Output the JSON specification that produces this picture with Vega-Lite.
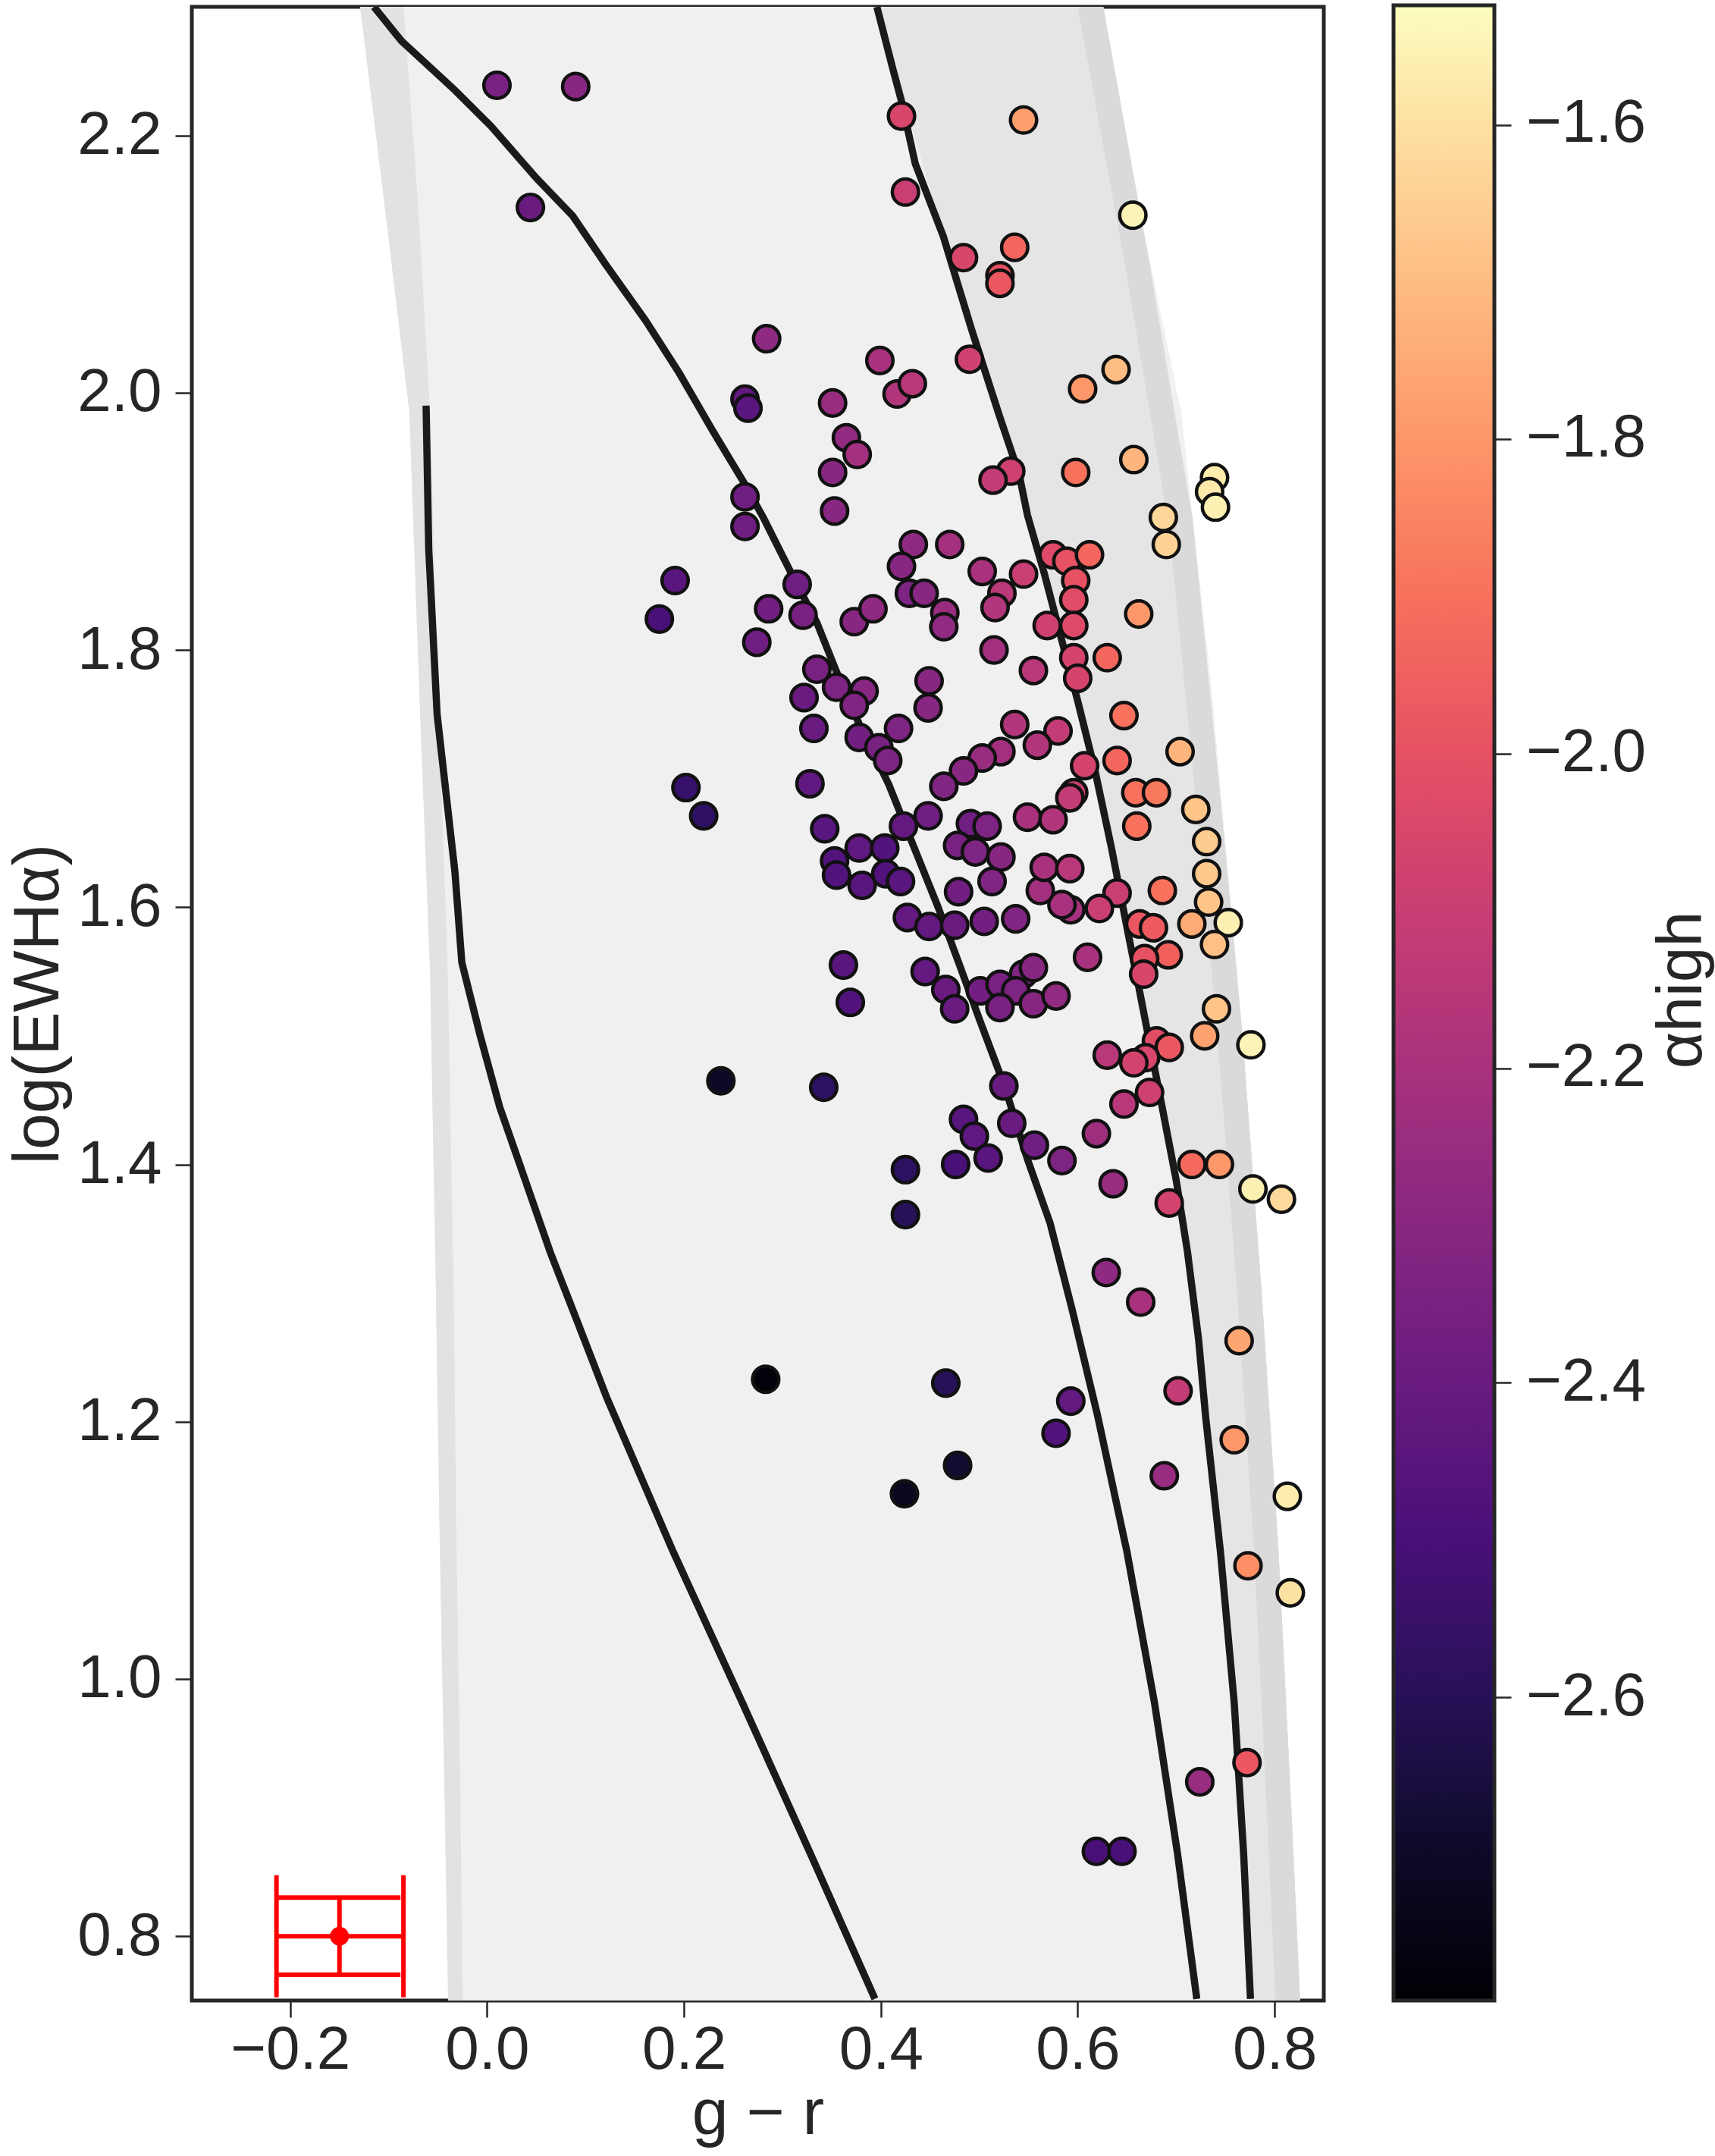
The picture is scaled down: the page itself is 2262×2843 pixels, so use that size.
{
"$schema": "https://vega.github.io/schema/vega-lite/v6.json",
"width": 1493, "height": 2629,
"autosize": {"type": "none"},
"padding": {"left": 253, "top": 9, "right": 516, "bottom": 205},
"background": "white",
"config": {
 "font": "Liberation Sans",
 "view": {"stroke": "#262626", "strokeWidth": 5},
 "axis": {"grid": false, "domain": false, "ticks": true, "tickSize": 22, "tickWidth": 2.5, "tickColor": "#262626", "labelFontSize": 80, "labelColor": "#262626", "titleFontSize": 86, "titleFontWeight": "normal", "titleColor": "#262626", "labelFont": "Liberation Sans", "titleFont": "Liberation Sans", "titleLimit": 2000},
 "axisX": {"tickCount": 6, "labelPadding": 4, "titlePadding": 2},
 "axisY": {"tickCount": 8, "labelPadding": 18, "titlePadding": 7},
 "legend": {"gradientVerticalMaxLength": 3000, "gradientVerticalMinLength": 10}
},
"datasets": {
 "band": [
  {"y": 2.30, "xl": -0.129, "xr": 0.626}, {"y": 2.145, "xl": -0.104, "xr": 0.662}, {"y": 1.985, "xl": -0.079, "xr": 0.705},
  {"y": 1.77, "xl": -0.069, "xr": 0.736}, {"y": 1.55, "xl": -0.058, "xr": 0.762}, {"y": 1.30, "xl": -0.052, "xr": 0.787},
  {"y": 1.10, "xl": -0.048, "xr": 0.804}, {"y": 0.90, "xl": -0.043, "xr": 0.817}, {"y": 0.75, "xl": -0.0396, "xr": 0.826}
 ],
 "dark": [
  {"y": 2.30, "xl": 0.396, "xr": 0.626}, {"y": 2.10, "xl": 0.472, "xr": 0.673}, {"y": 1.90, "xl": 0.551, "xr": 0.717},
  {"y": 1.70, "xl": 0.619, "xr": 0.743}, {"y": 1.50, "xl": 0.672, "xr": 0.7675}, {"y": 1.30, "xl": 0.717, "xr": 0.787},
  {"y": 1.10, "xl": 0.745, "xr": 0.804}, {"y": 0.90, "xl": 0.766, "xr": 0.817}, {"y": 0.75, "xl": 0.7755, "xr": 0.826}
 ],
 "rstrip": [
  {"y": 2.30, "xl": 0.60, "xr": 0.626}, {"y": 2.10, "xl": 0.648, "xr": 0.673}, {"y": 1.90, "xl": 0.692, "xr": 0.717},
  {"y": 1.70, "xl": 0.718, "xr": 0.743}, {"y": 1.50, "xl": 0.742, "xr": 0.7675}, {"y": 1.30, "xl": 0.762, "xr": 0.787},
  {"y": 1.10, "xl": 0.779, "xr": 0.804}, {"y": 0.90, "xl": 0.792, "xr": 0.817}, {"y": 0.75, "xl": 0.801, "xr": 0.826}
 ],
 "lstrip": [
  {"y": 2.30, "xl": -0.129, "xr": -0.085}, {"y": 2.145, "xl": -0.104, "xr": -0.07}, {"y": 1.985, "xl": -0.079, "xr": -0.058},
  {"y": 1.77, "xl": -0.069, "xr": -0.05}, {"y": 1.55, "xl": -0.058, "xr": -0.04}, {"y": 1.30, "xl": -0.052, "xr": -0.034},
  {"y": 1.10, "xl": -0.048, "xr": -0.031}, {"y": 0.90, "xl": -0.043, "xr": -0.027}, {"y": 0.75, "xl": -0.0396, "xr": -0.025}
 ],
 "tracks": [
  {"line": "A", "i": 0, "x": -0.115, "y": 2.30}, {"line": "A", "i": 1, "x": -0.087, "y": 2.2735}, {"line": "A", "i": 2, "x": -0.033, "y": 2.2354},
  {"line": "A", "i": 3, "x": 0.004, "y": 2.2072}, {"line": "A", "i": 4, "x": 0.050, "y": 2.1669}, {"line": "A", "i": 5, "x": 0.087, "y": 2.1374},
  {"line": "A", "i": 6, "x": 0.121, "y": 2.0991}, {"line": "A", "i": 7, "x": 0.161, "y": 2.0561}, {"line": "A", "i": 8, "x": 0.195, "y": 2.0155},
  {"line": "A", "i": 9, "x": 0.229, "y": 1.9707}, {"line": "A", "i": 10, "x": 0.261, "y": 1.930}, {"line": "A", "i": 11, "x": 0.281, "y": 1.9024},
  {"line": "A", "i": 12, "x": 0.309, "y": 1.8596}, {"line": "A", "i": 13, "x": 0.335, "y": 1.8213}, {"line": "A", "i": 14, "x": 0.355, "y": 1.783},
  {"line": "A", "i": 15, "x": 0.378, "y": 1.7424}, {"line": "A", "i": 16, "x": 0.408, "y": 1.6956}, {"line": "A", "i": 17, "x": 0.432, "y": 1.6499},
  {"line": "A", "i": 18, "x": 0.458, "y": 1.6004}, {"line": "A", "i": 19, "x": 0.479, "y": 1.5571}, {"line": "A", "i": 20, "x": 0.5005, "y": 1.5121},
  {"line": "A", "i": 21, "x": 0.526, "y": 1.4602}, {"line": "A", "i": 22, "x": 0.549, "y": 1.404}, {"line": "A", "i": 23, "x": 0.572, "y": 1.3543},
  {"line": "A", "i": 24, "x": 0.5945, "y": 1.2867}, {"line": "A", "i": 25, "x": 0.620, "y": 1.2054}, {"line": "A", "i": 26, "x": 0.650, "y": 1.099},
  {"line": "A", "i": 27, "x": 0.678, "y": 0.9816}, {"line": "A", "i": 28, "x": 0.7015, "y": 0.8638}, {"line": "A", "i": 29, "x": 0.721, "y": 0.7513},
  {"line": "C", "i": 0, "x": 0.396, "y": 2.30}, {"line": "C", "i": 1, "x": 0.412, "y": 2.2523}, {"line": "C", "i": 2, "x": 0.4207, "y": 2.2275},
  {"line": "C", "i": 3, "x": 0.435, "y": 2.178}, {"line": "C", "i": 4, "x": 0.4635, "y": 2.1215}, {"line": "C", "i": 5, "x": 0.492, "y": 2.0496},
  {"line": "C", "i": 6, "x": 0.5205, "y": 1.9819}, {"line": "C", "i": 7, "x": 0.5405, "y": 1.9365}, {"line": "C", "i": 8, "x": 0.549, "y": 1.9047},
  {"line": "C", "i": 9, "x": 0.566, "y": 1.8596}, {"line": "C", "i": 10, "x": 0.583, "y": 1.8099}, {"line": "C", "i": 11, "x": 0.600, "y": 1.7604},
  {"line": "C", "i": 12, "x": 0.6176, "y": 1.7062}, {"line": "C", "i": 13, "x": 0.6345, "y": 1.6455}, {"line": "C", "i": 14, "x": 0.6488, "y": 1.589},
  {"line": "C", "i": 15, "x": 0.660, "y": 1.546}, {"line": "C", "i": 16, "x": 0.6715, "y": 1.5008}, {"line": "C", "i": 17, "x": 0.6858, "y": 1.4446},
  {"line": "C", "i": 18, "x": 0.700, "y": 1.388}, {"line": "C", "i": 19, "x": 0.7116, "y": 1.3317}, {"line": "C", "i": 20, "x": 0.7228, "y": 1.2641},
  {"line": "C", "i": 21, "x": 0.730, "y": 1.2037}, {"line": "C", "i": 22, "x": 0.745, "y": 1.099}, {"line": "C", "i": 23, "x": 0.759, "y": 0.9816},
  {"line": "C", "i": 24, "x": 0.7686, "y": 0.8638}, {"line": "C", "i": 25, "x": 0.7755, "y": 0.7513},
  {"line": "B", "i": 0, "x": -0.062, "y": 1.990}, {"line": "B", "i": 1, "x": -0.0593, "y": 1.878}, {"line": "B", "i": 2, "x": -0.0508, "y": 1.750},
  {"line": "B", "i": 3, "x": -0.0327, "y": 1.6274}, {"line": "B", "i": 4, "x": -0.0257, "y": 1.5571}, {"line": "B", "i": 5, "x": -0.0072, "y": 1.5006},
  {"line": "B", "i": 6, "x": 0.0128, "y": 1.4446}, {"line": "B", "i": 7, "x": 0.0386, "y": 1.3881}, {"line": "B", "i": 8, "x": 0.0642, "y": 1.3317},
  {"line": "B", "i": 9, "x": 0.0928, "y": 1.2756}, {"line": "B", "i": 10, "x": 0.1214, "y": 1.219}, {"line": "B", "i": 11, "x": 0.130, "y": 1.2037},
  {"line": "B", "i": 12, "x": 0.189, "y": 1.099}, {"line": "B", "i": 13, "x": 0.2593, "y": 0.9816}, {"line": "B", "i": 14, "x": 0.3287, "y": 0.8638},
  {"line": "B", "i": 15, "x": 0.394, "y": 0.7513}
 ],
 "pts": [
  {"x": 0.010, "y": 2.239, "a": -2.35}, {"x": 0.090, "y": 2.238, "a": -2.3}, {"x": 0.044, "y": 2.144, "a": -2.4},
  {"x": 0.284, "y": 2.042, "a": -2.28}, {"x": 0.262, "y": 1.995, "a": -2.42}, {"x": 0.265, "y": 1.988, "a": -2.45},
  {"x": 0.399, "y": 2.025, "a": -2.2}, {"x": 0.4165, "y": 1.999, "a": -2.17}, {"x": 0.432, "y": 2.007, "a": -2.15},
  {"x": 0.351, "y": 1.992, "a": -2.25}, {"x": 0.365, "y": 1.965, "a": -2.27}, {"x": 0.376, "y": 1.952, "a": -2.22},
  {"x": 0.351, "y": 1.938, "a": -2.3}, {"x": 0.353, "y": 1.908, "a": -2.3}, {"x": 0.262, "y": 1.919, "a": -2.38},
  {"x": 0.262, "y": 1.896, "a": -2.38},
  {"x": 0.421, "y": 2.215, "a": -2.05}, {"x": 0.545, "y": 2.212, "a": -1.78}, {"x": 0.425, "y": 2.156, "a": -2.1},
  {"x": 0.656, "y": 2.138, "a": -1.55}, {"x": 0.484, "y": 2.105, "a": -2.05}, {"x": 0.536, "y": 2.113, "a": -1.93},
  {"x": 0.521, "y": 2.091, "a": -2.0}, {"x": 0.521, "y": 2.085, "a": -1.98}, {"x": 0.490, "y": 2.026, "a": -2.08},
  {"x": 0.639, "y": 2.018, "a": -1.7}, {"x": 0.605, "y": 2.003, "a": -1.8}, {"x": 0.532, "y": 1.939, "a": -2.08},
  {"x": 0.514, "y": 1.932, "a": -2.12}, {"x": 0.598, "y": 1.938, "a": -1.9}, {"x": 0.657, "y": 1.948, "a": -1.72},
  {"x": 0.739, "y": 1.934, "a": -1.57}, {"x": 0.734, "y": 1.923, "a": -1.58}, {"x": 0.740, "y": 1.911, "a": -1.56},
  {"x": 0.687, "y": 1.903, "a": -1.63},
  {"x": 0.191, "y": 1.854, "a": -2.45}, {"x": 0.175, "y": 1.824, "a": -2.5}, {"x": 0.315, "y": 1.851, "a": -2.38},
  {"x": 0.286, "y": 1.832, "a": -2.37}, {"x": 0.321, "y": 1.827, "a": -2.35}, {"x": 0.274, "y": 1.806, "a": -2.38},
  {"x": 0.373, "y": 1.822, "a": -2.3}, {"x": 0.392, "y": 1.832, "a": -2.28}, {"x": 0.335, "y": 1.785, "a": -2.35},
  {"x": 0.355, "y": 1.771, "a": -2.33}, {"x": 0.383, "y": 1.768, "a": -2.3}, {"x": 0.373, "y": 1.757, "a": -2.32},
  {"x": 0.322, "y": 1.763, "a": -2.4}, {"x": 0.332, "y": 1.739, "a": -2.4}, {"x": 0.378, "y": 1.732, "a": -2.37},
  {"x": 0.398, "y": 1.724, "a": -2.35}, {"x": 0.407, "y": 1.714, "a": -2.33}, {"x": 0.202, "y": 1.693, "a": -2.55},
  {"x": 0.220, "y": 1.671, "a": -2.57}, {"x": 0.328, "y": 1.696, "a": -2.43}, {"x": 0.343, "y": 1.661, "a": -2.45},
  {"x": 0.353, "y": 1.636, "a": -2.47}, {"x": 0.355, "y": 1.625, "a": -2.47}, {"x": 0.378, "y": 1.646, "a": -2.43},
  {"x": 0.381, "y": 1.617, "a": -2.45}, {"x": 0.362, "y": 1.555, "a": -2.45}, {"x": 0.369, "y": 1.526, "a": -2.47},
  {"x": 0.2375, "y": 1.465, "a": -2.7}, {"x": 0.342, "y": 1.460, "a": -2.58}, {"x": 0.283, "y": 1.233, "a": -2.78},
  {"x": 0.433, "y": 1.882, "a": -2.28}, {"x": 0.470, "y": 1.882, "a": -2.22}, {"x": 0.421, "y": 1.865, "a": -2.3},
  {"x": 0.429, "y": 1.844, "a": -2.33}, {"x": 0.444, "y": 1.844, "a": -2.3}, {"x": 0.465, "y": 1.829, "a": -2.25},
  {"x": 0.464, "y": 1.818, "a": -2.27}, {"x": 0.503, "y": 1.861, "a": -2.2}, {"x": 0.523, "y": 1.844, "a": -2.15},
  {"x": 0.516, "y": 1.833, "a": -2.17}, {"x": 0.545, "y": 1.859, "a": -2.1}, {"x": 0.575, "y": 1.874, "a": -2.03},
  {"x": 0.589, "y": 1.869, "a": -2.0}, {"x": 0.612, "y": 1.874, "a": -1.93}, {"x": 0.598, "y": 1.854, "a": -2.0},
  {"x": 0.596, "y": 1.839, "a": -2.02}, {"x": 0.569, "y": 1.819, "a": -2.08}, {"x": 0.596, "y": 1.819, "a": -2.03},
  {"x": 0.515, "y": 1.800, "a": -2.22}, {"x": 0.555, "y": 1.784, "a": -2.15}, {"x": 0.596, "y": 1.794, "a": -2.06},
  {"x": 0.600, "y": 1.778, "a": -2.06}, {"x": 0.630, "y": 1.794, "a": -1.93}, {"x": 0.662, "y": 1.828, "a": -1.8},
  {"x": 0.690, "y": 1.882, "a": -1.64}, {"x": 0.449, "y": 1.776, "a": -2.3}, {"x": 0.448, "y": 1.755, "a": -2.3},
  {"x": 0.418, "y": 1.739, "a": -2.33}, {"x": 0.536, "y": 1.742, "a": -2.17}, {"x": 0.580, "y": 1.737, "a": -2.12},
  {"x": 0.559, "y": 1.726, "a": -2.17}, {"x": 0.522, "y": 1.721, "a": -2.22}, {"x": 0.503, "y": 1.716, "a": -2.25},
  {"x": 0.484, "y": 1.706, "a": -2.3}, {"x": 0.464, "y": 1.694, "a": -2.32}, {"x": 0.607, "y": 1.710, "a": -2.06},
  {"x": 0.640, "y": 1.714, "a": -1.93}, {"x": 0.647, "y": 1.749, "a": -1.9}, {"x": 0.704, "y": 1.721, "a": -1.72},
  {"x": 0.596, "y": 1.689, "a": -2.1}, {"x": 0.592, "y": 1.685, "a": -2.12}, {"x": 0.549, "y": 1.670, "a": -2.2},
  {"x": 0.575, "y": 1.668, "a": -2.17}, {"x": 0.659, "y": 1.689, "a": -1.9}, {"x": 0.680, "y": 1.689, "a": -1.88},
  {"x": 0.660, "y": 1.663, "a": -1.9}, {"x": 0.720, "y": 1.676, "a": -1.68}, {"x": 0.731, "y": 1.651, "a": -1.66},
  {"x": 0.731, "y": 1.626, "a": -1.67}, {"x": 0.733, "y": 1.604, "a": -1.68}, {"x": 0.753, "y": 1.588, "a": -1.56},
  {"x": 0.716, "y": 1.587, "a": -1.75}, {"x": 0.739, "y": 1.571, "a": -1.69}, {"x": 0.686, "y": 1.613, "a": -1.9},
  {"x": 0.640, "y": 1.611, "a": -2.1}, {"x": 0.622, "y": 1.599, "a": -2.1}, {"x": 0.593, "y": 1.598, "a": -2.2},
  {"x": 0.584, "y": 1.602, "a": -2.2}, {"x": 0.562, "y": 1.613, "a": -2.22}, {"x": 0.566, "y": 1.631, "a": -2.2},
  {"x": 0.592, "y": 1.630, "a": -2.15}, {"x": 0.663, "y": 1.587, "a": -1.98}, {"x": 0.677, "y": 1.584, "a": -1.97},
  {"x": 0.692, "y": 1.563, "a": -1.95}, {"x": 0.668, "y": 1.560, "a": -2.0}, {"x": 0.610, "y": 1.561, "a": -2.2},
  {"x": 0.448, "y": 1.671, "a": -2.38}, {"x": 0.423, "y": 1.663, "a": -2.42}, {"x": 0.491, "y": 1.665, "a": -2.38},
  {"x": 0.508, "y": 1.663, "a": -2.33}, {"x": 0.478, "y": 1.648, "a": -2.35}, {"x": 0.496, "y": 1.643, "a": -2.33},
  {"x": 0.522, "y": 1.639, "a": -2.3}, {"x": 0.513, "y": 1.620, "a": -2.32}, {"x": 0.479, "y": 1.612, "a": -2.37},
  {"x": 0.404, "y": 1.646, "a": -2.47}, {"x": 0.405, "y": 1.626, "a": -2.47}, {"x": 0.420, "y": 1.620, "a": -2.45},
  {"x": 0.427, "y": 1.592, "a": -2.42}, {"x": 0.449, "y": 1.585, "a": -2.42}, {"x": 0.475, "y": 1.586, "a": -2.4},
  {"x": 0.505, "y": 1.589, "a": -2.37}, {"x": 0.537, "y": 1.591, "a": -2.32},
  {"x": 0.445, "y": 1.550, "a": -2.42}, {"x": 0.466, "y": 1.536, "a": -2.4}, {"x": 0.475, "y": 1.521, "a": -2.4},
  {"x": 0.501, "y": 1.535, "a": -2.37}, {"x": 0.521, "y": 1.540, "a": -2.35}, {"x": 0.545, "y": 1.548, "a": -2.32},
  {"x": 0.555, "y": 1.553, "a": -2.3}, {"x": 0.537, "y": 1.535, "a": -2.33}, {"x": 0.521, "y": 1.522, "a": -2.35},
  {"x": 0.555, "y": 1.525, "a": -2.3}, {"x": 0.578, "y": 1.531, "a": -2.27}, {"x": 0.667, "y": 1.548, "a": -2.05},
  {"x": 0.741, "y": 1.521, "a": -1.68}, {"x": 0.729, "y": 1.500, "a": -1.77}, {"x": 0.776, "y": 1.493, "a": -1.55},
  {"x": 0.630, "y": 1.485, "a": -2.15}, {"x": 0.680, "y": 1.496, "a": -2.02}, {"x": 0.693, "y": 1.491, "a": -1.98},
  {"x": 0.669, "y": 1.483, "a": -2.05}, {"x": 0.657, "y": 1.479, "a": -2.07}, {"x": 0.673, "y": 1.456, "a": -2.08},
  {"x": 0.647, "y": 1.447, "a": -2.15}, {"x": 0.619, "y": 1.424, "a": -2.23}, {"x": 0.525, "y": 1.461, "a": -2.4},
  {"x": 0.533, "y": 1.432, "a": -2.4}, {"x": 0.484, "y": 1.435, "a": -2.45}, {"x": 0.495, "y": 1.422, "a": -2.43},
  {"x": 0.476, "y": 1.400, "a": -2.5}, {"x": 0.509, "y": 1.405, "a": -2.45}, {"x": 0.556, "y": 1.415, "a": -2.38},
  {"x": 0.584, "y": 1.403, "a": -2.33}, {"x": 0.425, "y": 1.396, "a": -2.58}, {"x": 0.425, "y": 1.361, "a": -2.6},
  {"x": 0.636, "y": 1.385, "a": -2.25}, {"x": 0.716, "y": 1.400, "a": -1.92}, {"x": 0.744, "y": 1.400, "a": -1.8},
  {"x": 0.778, "y": 1.381, "a": -1.56}, {"x": 0.807, "y": 1.373, "a": -1.62}, {"x": 0.693, "y": 1.370, "a": -2.07},
  {"x": 0.629, "y": 1.316, "a": -2.28}, {"x": 0.664, "y": 1.293, "a": -2.2}, {"x": 0.764, "y": 1.263, "a": -1.76},
  {"x": 0.466, "y": 1.230, "a": -2.6}, {"x": 0.593, "y": 1.216, "a": -2.42}, {"x": 0.702, "y": 1.224, "a": -2.12},
  {"x": 0.578, "y": 1.191, "a": -2.47}, {"x": 0.478, "y": 1.166, "a": -2.68}, {"x": 0.424, "y": 1.144, "a": -2.72},
  {"x": 0.688, "y": 1.158, "a": -2.25}, {"x": 0.759, "y": 1.186, "a": -1.8}, {"x": 0.813, "y": 1.142, "a": -1.57},
  {"x": 0.773, "y": 1.088, "a": -1.82}, {"x": 0.816, "y": 1.067, "a": -1.6}, {"x": 0.772, "y": 0.935, "a": -1.98},
  {"x": 0.724, "y": 0.920, "a": -2.25}, {"x": 0.619, "y": 0.866, "a": -2.5}, {"x": 0.645, "y": 0.866, "a": -2.5}
 ],
 "err": [{"x": -0.15, "y": 0.80, "xlo": -0.214, "xhi": -0.085, "ylo": 0.77, "yhi": 0.83}]
},
"resolve": {"scale": {"y": "independent"}, "axis": {"y": "independent"}},
"layer": [
 {"layer": [
 {"data": {"name": "band"}, "mark": {"type": "area", "orient": "horizontal", "color": "#f0f0f0", "clip": true},
  "encoding": {"y": {"field": "y", "type": "quantitative", "scale": {"domain": [0.75, 2.30], "nice": false, "zero": false}, "title": "log(EWHα)"},
   "x": {"field": "xl", "type": "quantitative", "scale": {"domain": [-0.3, 0.85], "nice": false, "zero": false}, "title": "g − r", "axis": {"labelExpr": "replace(format(datum.value,'.1f'),'-','−')"}},
   "x2": {"field": "xr"}}},
 {"data": {"name": "dark"}, "mark": {"type": "area", "orient": "horizontal", "color": "#e5e5e5", "clip": true},
  "encoding": {"y": {"field": "y", "type": "quantitative", "title": "log(EWHα)"}, "x": {"field": "xl", "type": "quantitative", "title": "g − r"}, "x2": {"field": "xr"}}},
 {"data": {"name": "rstrip"}, "mark": {"type": "area", "orient": "horizontal", "color": "#dadada", "clip": true},
  "encoding": {"y": {"field": "y", "type": "quantitative", "title": "log(EWHα)"}, "x": {"field": "xl", "type": "quantitative", "title": "g − r"}, "x2": {"field": "xr"}}},
 {"data": {"name": "lstrip"}, "mark": {"type": "area", "orient": "horizontal", "color": "#e2e2e2", "clip": true},
  "encoding": {"y": {"field": "y", "type": "quantitative", "title": "log(EWHα)"}, "x": {"field": "xl", "type": "quantitative", "title": "g − r"}, "x2": {"field": "xr"}}},
 {"data": {"name": "tracks"}, "mark": {"type": "line", "color": "#1a1a1a", "strokeWidth": 9.5, "clip": true},
  "encoding": {"y": {"field": "y", "type": "quantitative", "title": "log(EWHα)"}, "x": {"field": "x", "type": "quantitative", "title": "g − r"}, "detail": {"field": "line"}, "order": {"field": "i", "type": "quantitative"}}},
 {"data": {"name": "pts"}, "mark": {"type": "circle", "size": 1200, "stroke": "#111111", "strokeWidth": 4.5, "opacity": 1},
  "encoding": {"y": {"field": "y", "type": "quantitative", "title": "log(EWHα)"}, "x": {"field": "x", "type": "quantitative", "title": "g − r"},
   "color": {"field": "a", "type": "quantitative", "scale": {"scheme": "magma", "domain": [-2.793, -1.525]},
    "legend": {"orient": "none", "legendX": 1585, "legendY": -2, "direction": "vertical", "gradientLength": 2631, "gradientThickness": 133,
     "gradientStrokeColor": "#262626", "gradientStrokeWidth": 5, "values": [-2.6, -2.4, -2.2, -2.0, -1.8, -1.6],
     "labelExpr": "replace(format(datum.value,'.1f'),'-','−')", "labelFontSize": 80, "labelOffset": 42, "labelOverlap": false, "labelLimit": 400,
     "labelColor": "#262626", "labelFont": "Liberation Sans", "title": null, "padding": 0}}}},
 {"data": {"name": "err"}, "mark": {"type": "rule", "color": "#ff0000", "strokeWidth": 6},
  "encoding": {"y": {"field": "y", "type": "quantitative", "title": "log(EWHα)"}, "x": {"field": "xlo", "type": "quantitative", "title": "g − r"}, "x2": {"field": "xhi"}}},
 {"data": {"name": "err"}, "mark": {"type": "rule", "color": "#ff0000", "strokeWidth": 6},
  "encoding": {"y": {"field": "ylo", "type": "quantitative", "title": "log(EWHα)"}, "y2": {"field": "yhi"}, "x": {"field": "x", "type": "quantitative", "title": "g − r"}}},
 {"data": {"name": "err"}, "mark": {"type": "tick", "orient": "vertical", "color": "#ff0000", "size": 161, "thickness": 6, "opacity": 1},
  "encoding": {"y": {"field": "y", "type": "quantitative", "title": "log(EWHα)"}, "x": {"field": "xlo", "type": "quantitative", "title": "g − r"}}},
 {"data": {"name": "err"}, "mark": {"type": "tick", "orient": "vertical", "color": "#ff0000", "size": 161, "thickness": 6, "opacity": 1},
  "encoding": {"y": {"field": "y", "type": "quantitative", "title": "log(EWHα)"}, "x": {"field": "xhi", "type": "quantitative", "title": "g − r"}}},
 {"data": {"name": "err"}, "mark": {"type": "tick", "orient": "horizontal", "color": "#ff0000", "size": 161, "thickness": 6, "opacity": 1},
  "encoding": {"y": {"field": "ylo", "type": "quantitative", "title": "log(EWHα)"}, "x": {"field": "x", "type": "quantitative", "title": "g − r"}}},
 {"data": {"name": "err"}, "mark": {"type": "tick", "orient": "horizontal", "color": "#ff0000", "size": 161, "thickness": 6, "opacity": 1},
  "encoding": {"y": {"field": "yhi", "type": "quantitative", "title": "log(EWHα)"}, "x": {"field": "x", "type": "quantitative", "title": "g − r"}}},
 {"data": {"name": "err"}, "mark": {"type": "circle", "color": "#ff0000", "size": 620, "opacity": 1},
  "encoding": {"y": {"field": "y", "type": "quantitative", "title": "log(EWHα)"}, "x": {"field": "x", "type": "quantitative", "title": "g − r"}}}
 ]},
 {"data": {"name": "err"}, "mark": {"type": "point", "opacity": 0, "clip": true},
  "encoding": {"x": {"field": "x", "type": "quantitative", "title": "g − r"},
   "y": {"field": "y", "type": "quantitative", "scale": {"domain": [-2.793, -1.525], "nice": false, "zero": false},
    "axis": {"orient": "right", "offset": 225, "values": [-2.6, -2.4, -2.2, -2.0, -1.8, -1.6], "title": "αhigh", "labels": false, "ticks": true, "tickSize": 22, "tickWidth": 2.5, "domain": false, "grid": false, "titleAngle": 270, "titleX": 247, "titleY": 1296, "titleAlign": "center", "titleBaseline": "middle", "titleFontSize": 84}}}}
]
}
